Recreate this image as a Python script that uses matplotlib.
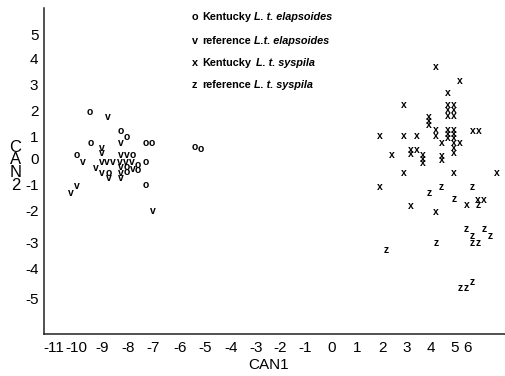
import matplotlib

matplotlib.use("Agg")
import matplotlib.pyplot as plt

plt.rcParams["font.family"] = ["Liberation Sans", "DejaVu Sans"]

# Kentucky L. t. elapsoides ("o")
ke_x = [-9.57, -8.34, -8.10, -9.53, -7.35, -7.11, -10.08, -7.87, -7.35, -8.10,
        -7.67, -7.67, -8.81, -8.10, -7.35, -5.42, -5.18]
ke_y = [1.88, 1.12, 0.88, 0.64, 0.64, 0.64, 0.16, 0.16, -0.12, -0.32,
        -0.24, -0.44, -0.56, -0.52, -1.04, 0.48, 0.40]

# reference L.t. elapsoides ("v")
re_x = [-8.85, -8.34, -9.09, -9.09, -9.84, -8.34, -8.10, -9.09, -8.89, -8.66,
        -8.38, -8.14, -7.91, -9.33, -8.34, -7.87, -9.09, -8.81, -8.34, -8.34,
        -10.08, -10.32, -7.08]
re_y = [1.68, 0.64, 0.44, 0.24, -0.12, 0.16, 0.16, -0.12, -0.12, -0.12,
        -0.12, -0.12, -0.12, -0.36, -0.32, -0.40, -0.56, -0.76, -0.56, -0.76,
        -1.08, -1.36, -2.08]

# Kentucky L. t. syspila ("x")
ks_x = [4.11, 5.06, 4.58, 2.85, 4.58, 4.82, 4.58, 4.82, 4.58, 4.82,
        3.83, 3.83, 3.83, 1.90, 2.85, 3.36, 4.11, 4.11, 4.58, 4.82,
        4.58, 4.82, 4.58, 4.82, 4.35, 4.82, 5.06, 4.82, 4.82, 5.57,
        5.81, 3.12, 3.36, 3.12, 3.60, 3.60, 3.60, 2.37, 4.35, 4.35,
        2.85, 4.82, 6.52, 1.90, 3.12, 4.11, 5.34, 5.77, 6.01]
ks_y = [3.68, 3.12, 2.64, 2.16, 2.16, 2.16, 1.96, 1.96, 1.72, 1.72,
        1.68, 1.52, 1.36, 0.92, 0.92, 0.92, 1.16, 0.92, 1.16, 1.16,
        1.00, 1.00, 0.84, 0.84, 0.64, 0.64, 0.64, 0.44, 0.24, 1.12,
        1.12, 0.36, 0.36, 0.20, 0.16, 0.00, -0.16, 0.16, 0.12, -0.04,
        -0.56, -0.56, -0.56, -1.12, -1.88, -2.12, -1.84, -1.64, -1.64]

# reference L. t. syspila ("z")
rs_x = [3.83, 4.31, 5.53, 4.82, 5.77, 5.30, 5.53, 6.01, 6.25, 4.11,
        5.53, 5.77, 2.13, 5.06, 5.30, 5.53]
rs_y = [-1.36, -1.12, -1.12, -1.60, -1.84, -2.80, -3.08, -2.80, -3.08, -3.36,
        -3.36, -3.36, -3.64, -5.16, -5.16, -4.92]

# tick labels sit where the original printed them (slightly uneven)
xtick_pos = [-11.0, -10.1, -9.1, -8.05, -7.05, -6.0, -5.0, -4.0, -3.0, -2.05,
             -1.05, 0.0, 1.0, 2.0, 2.95, 3.9, 4.85, 5.35]
xtick_lab = ["-11", "-10", "-9", "-8", "-7", "-6", "-5", "-4", "-3", "-2",
             "-1", "0", "1", "2", "3", "4", "5", "6"]
ytick_pos = [4.96, 4.04, 2.96, 1.96, 0.92, 0.0, -1.04, -2.04, -3.32, -4.36, -5.56]
ytick_lab = ["5", "4", "3", "2", "1", "0", "-1", "-2", "-3", "-4", "-5"]

groups = [
    ("o", ke_x, ke_y, "Kentucky", "L. t. elapsoides", 2.0),
    ("v", re_x, re_y, "reference", "L.t. elapsoides", 2.0),
    ("x", ks_x, ks_y, "Kentucky", "L. t. syspila", 4.0),
    ("z", rs_x, rs_y, "reference", "L. t. syspila", 2.0),
]

W, H = 505, 376
fig = plt.figure(figsize=(W / 100, H / 100), dpi=100)
ax = fig.add_axes([44 / W, 42 / H, 1 - 44 / W, 326 / H])

for sym, xs, ys, _, _, _ in groups:
    for x, y in zip(xs, ys):
        ax.text(x, y, sym, ha="center", va="center", fontsize=7.5,
                fontweight="bold", color="black")

ax.set_xlim(-11.38, 6.84)
ax.set_ylim(-7.0, 6.04)
ax.set_xticks(xtick_pos)
ax.set_xticklabels(xtick_lab)
ax.set_yticks(ytick_pos)
ax.set_yticklabels(ytick_lab)
ax.tick_params(axis="both", length=0, labelsize=11, colors="black")
ax.tick_params(axis="x", pad=5)
ax.tick_params(axis="y", pad=4)
for side in ("top", "right"):
    ax.spines[side].set_visible(False)
for side in ("left", "bottom"):
    ax.spines[side].set_linewidth(1.1)
    ax.spines[side].set_color("#222222")

ax.set_xlabel("CAN1", fontsize=11)
ax.xaxis.set_label_coords(0.488, -0.075)
ax.set_ylabel("C\nA\nN\n2", fontsize=12, rotation=0, linespacing=0.8,
              ha="center", va="center")
ax.yaxis.set_label_coords(-0.062, 0.515)

# legend written as text lines at the top
leg_y = [17, 40.5, 62.5, 84.5]
for (sym, _, _, plain, ital, gap), yy in zip(groups, leg_y):
    fy = 1 - yy / H
    fig.text(194.5 / W, fy, sym, ha="center", va="center", fontsize=7.8,
             fontweight="bold")
    t = fig.text(202 / W, fy, plain, ha="left", va="center",
                 fontsize=7.8, fontweight="bold")
    ax.annotate(ital, xy=(1, 0.5), xycoords=t, xytext=(gap, 0),
                textcoords="offset points", ha="left", va="center",
                fontsize=7.8, fontweight="bold", fontstyle="italic")

fig.savefig("out.png", dpi=100)
